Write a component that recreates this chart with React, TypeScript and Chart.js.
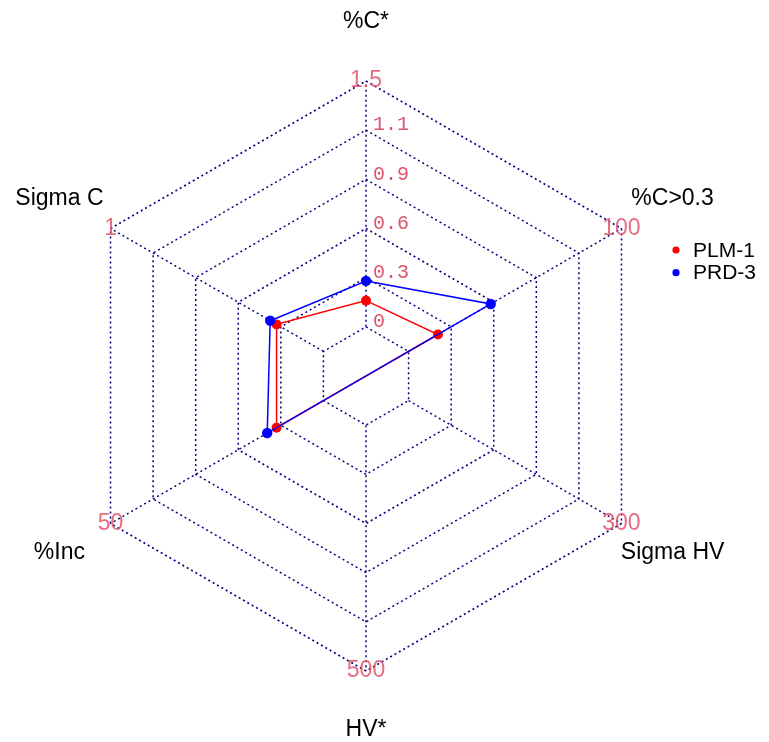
import React, { useEffect, useRef } from "react";
import { Chart, registerables } from "chart.js";

Chart.register(...registerables);

// Axes in clockwise order starting at the top
const axisLabels = ["%C*", "%C>0.3", "Sigma HV", "HV*", "%Inc", "Sigma C"];
const axisMin = [0, 0, 0, 0, 0, 0];
const axisMax = [1.5, 100, 300, 500, 50, 1];
const vertexLabels = ["1.5", "100", "300", "500", "50", "1"];
const ringLabels = ["0", "0.3", "0.6", "0.9", "1.1"];

const seriesNames = ["PLM-1", "PRD-3"];
const seriesColors = ["#FF0000", "#0000FF"];
const plm1Values: (number | null)[] = [0.16, 13.8, null, null, 11.0, 0.22];
const prd3Values: (number | null)[] = [0.28, 38.6, null, null, 13.2, 0.25];

const SEG = 5;
const GRID_COLOR = "#000080";
const PINK = "#DF536B";
const SANS = "'Liberation Sans', Arial, sans-serif";
const MONO = "'Liberation Mono', 'DejaVu Sans Mono', monospace";

function normalize(vals: (number | null)[]) {
  return vals.map((v, i) =>
    v == null ? null : 1 + (SEG * (v - axisMin[i])) / (axisMax[i] - axisMin[i])
  );
}

const radarDecor = {
  id: "radarDecor",
  beforeDatasetsDraw(chart: any) {
    const scale = chart.scales.r;
    const ctx = chart.ctx;
    ctx.save();
    ctx.strokeStyle = GRID_COLOR;
    ctx.lineWidth = 1.5;
    ctx.setLineDash([2, 3]);
    for (let i = 0; i < axisLabels.length; i++) {
      const p1 = scale.getPointPosition(i, scale.getDistanceFromCenterForValue(1));
      const p2 = scale.getPointPosition(i, scale.getDistanceFromCenterForValue(SEG + 1));
      ctx.beginPath();
      ctx.moveTo(p1.x, p1.y);
      ctx.lineTo(p2.x, p2.y);
      ctx.stroke();
    }
    ctx.restore();
  },
  afterDraw(chart: any) {
    const scale = chart.scales.r;
    const ctx = chart.ctx;
    ctx.save();
    // axis titles
    ctx.fillStyle = "#000000";
    ctx.font = `23px ${SANS}`;
    ctx.textAlign = "center";
    ctx.textBaseline = "middle";
    for (let i = 0; i < axisLabels.length; i++) {
      const p = scale.getPointPosition(i, scale.drawingArea * 1.2);
      ctx.fillText(axisLabels[i], p.x, p.y);
    }
    // vertex max labels
    ctx.fillStyle = "rgba(223,83,107,0.85)";
    ctx.font = `23px ${SANS}`;
    for (let i = 0; i < vertexLabels.length; i++) {
      const p = scale.getPointPosition(i, scale.getDistanceFromCenterForValue(SEG + 1));
      ctx.fillText(vertexLabels[i], p.x, p.y);
    }
    // ring labels on the top axis
    ctx.fillStyle = PINK;
    ctx.font = `20px ${MONO}`;
    ctx.textAlign = "left";
    for (let k = 0; k < ringLabels.length; k++) {
      const p = scale.getPointPosition(0, scale.getDistanceFromCenterForValue(k + 1));
      ctx.fillText(ringLabels[k], p.x + 7, p.y - 5);
    }
    // legend
    const lx = 676;
    const ly0 = 250;
    const dy = 22.7;
    ctx.font = `21px ${SANS}`;
    for (let s = 0; s < seriesNames.length; s++) {
      const y = ly0 + s * dy;
      ctx.fillStyle = seriesColors[s];
      ctx.beginPath();
      ctx.arc(lx, y, 3.6, 0, Math.PI * 2);
      ctx.fill();
      ctx.fillStyle = "#000000";
      ctx.fillText(seriesNames[s], lx + 17, y + 1);
    }
    ctx.restore();
  },
};

export default function App() {
  const ref = useRef<HTMLCanvasElement>(null);
  useEffect(() => {
    if (!ref.current) return;
    const chart = new Chart(ref.current, {
      type: "radar",
      data: {
        labels: axisLabels,
        datasets: [
          {
            label: seriesNames[0],
            data: normalize(plm1Values),
            borderColor: seriesColors[0],
            backgroundColor: seriesColors[0],
            pointBackgroundColor: seriesColors[0],
            pointBorderWidth: 0,
            pointRadius: 5,
            borderWidth: 1.5,
            fill: false,
            spanGaps: true,
            order: 2,
          },
          {
            label: seriesNames[1],
            data: normalize(prd3Values),
            borderColor: seriesColors[1],
            backgroundColor: seriesColors[1],
            pointBackgroundColor: seriesColors[1],
            pointBorderWidth: 0,
            pointRadius: 5.2,
            borderWidth: 1.5,
            fill: false,
            spanGaps: true,
            order: 1,
          },
        ],
      } as any,
      options: {
        responsive: false,
        animation: false,
        events: [],
        layout: { padding: { left: 71, right: 108, top: 81, bottom: 71 } },
        plugins: { legend: { display: false }, tooltip: { enabled: false } },
        scales: {
          r: {
            min: 0,
            max: SEG + 1,
            beginAtZero: true,
            ticks: { display: false, stepSize: 1 },
            pointLabels: { display: false },
            angleLines: { display: false },
            grid: { color: GRID_COLOR, lineWidth: 1.5 },
            border: { dash: [2, 3] },
          } as any,
        },
      },
      plugins: [radarDecor],
    });
    return () => chart.destroy();
  }, []);
  return (
    <div style={{ position: "absolute", left: 0, top: 0, width: 769, height: 742, background: "#fff" }}>
      <canvas ref={ref} width={769} height={742} style={{ display: "block" }} />
    </div>
  );
}
